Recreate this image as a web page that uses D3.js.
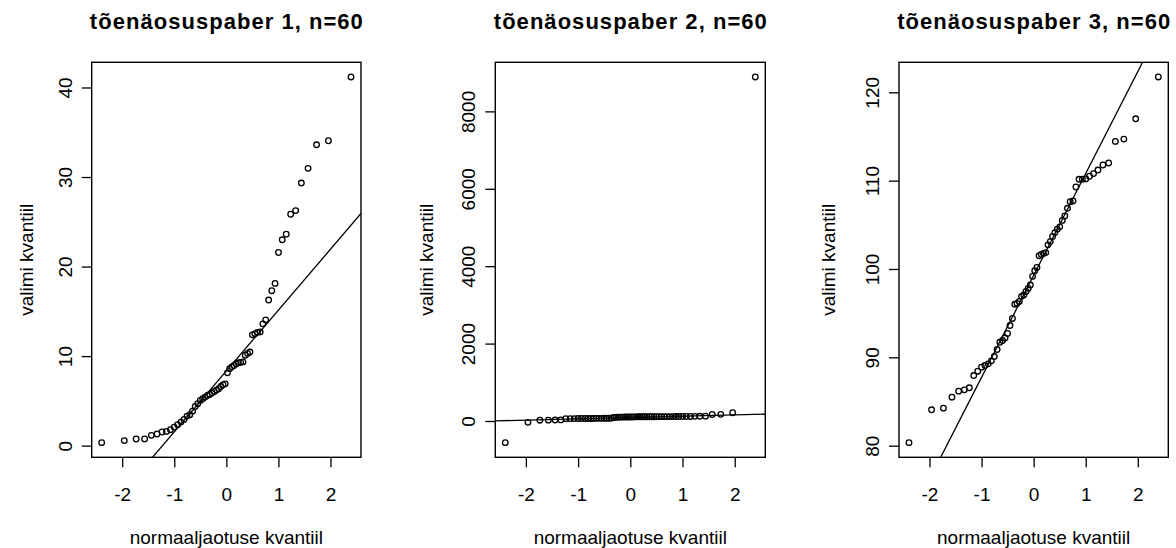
<!DOCTYPE html>
<html>
<head>
<meta charset="utf-8">
<script src="https://cdn.jsdelivr.net/npm/d3@7"></script>
<style>
  body { margin: 0; background: #fff; }
  text { font-family: "Liberation Sans", Arial, sans-serif; fill: #000; }
</style>
</head>
<body>
<div id="chart"></div>
<script>
// Panel titles and axis labels
const panelTitles = ["tõenäosuspaber 1, n=60", "tõenäosuspaber 2, n=60", "tõenäosuspaber 3, n=60"];
const xLabel = "normaaljaotuse kvantiil";
const yLabel = "valimi kvantiil";

// theoretical normal quantiles for n=60 (ppoints), shared by every panel
const normQuantiles = [
    -2.394, -1.960, -1.732, -1.569, -1.440, -1.331, -1.235, -1.150, -1.073, -1.001,
    -0.935, -0.872, -0.812, -0.755, -0.701, -0.649, -0.598, -0.549, -0.501, -0.454,
    -0.408, -0.363, -0.319, -0.275, -0.232, -0.189, -0.147, -0.105, -0.063, -0.021,
    0.021, 0.063, 0.105, 0.147, 0.189, 0.232, 0.275, 0.319, 0.363, 0.408,
    0.454, 0.501, 0.549, 0.598, 0.649, 0.701, 0.755, 0.812, 0.872, 0.935,
    1.001, 1.073, 1.150, 1.235, 1.331, 1.440, 1.569, 1.732, 1.960, 2.394
];

// sorted sample values
const sample1 = [
    0.33, 0.56, 0.74, 0.75, 1.15, 1.30, 1.52, 1.59, 1.78, 2.07,
    2.34, 2.63, 2.93, 3.30, 3.45, 3.85, 4.37, 4.68, 5.05, 5.24,
    5.42, 5.61, 5.72, 5.87, 6.05, 6.20, 6.35, 6.60, 6.80, 6.90,
    8.13, 8.60, 8.80, 8.95, 9.15, 9.25, 9.30, 9.35, 10.10, 10.30,
    10.45, 12.37, 12.50, 12.65, 12.70, 13.60, 14.04, 16.26, 17.30, 18.12,
    21.57, 22.99, 23.62, 25.84, 26.25, 29.33, 30.97, 33.60, 34.05, 41.18
];
const sample2 = [
    -560, -35, 20, 22, 25, 28, 60, 61, 62, 63,
    64, 65, 66, 66, 67, 68, 68, 69, 70, 71,
    72, 73, 90, 95, 98, 100, 101, 102, 103, 104,
    105, 106, 107, 108, 108, 109, 109, 110, 110, 110,
    111, 111, 112, 112, 113, 113, 114, 114, 115, 115,
    116, 117, 118, 120, 122, 125, 168, 172, 215, 8890
];
const sample3 = [
    80.34, 84.06, 84.25, 85.49, 86.17, 86.32, 86.55, 87.94, 88.43, 88.88,
    89.07, 89.26, 89.60, 90.09, 90.88, 91.70, 91.90, 92.19, 92.70, 93.60,
    94.40, 96.00, 96.10, 96.33, 96.90, 97.05, 97.46, 97.80, 98.18, 99.16,
    99.80, 100.17, 101.50, 101.65, 101.76, 101.85, 102.73, 103.10, 103.67, 104.12,
    104.50, 104.77, 105.50, 106.00, 106.87, 107.62, 107.70, 109.28, 110.15, 110.15,
    110.20, 110.50, 110.80, 111.20, 111.77, 112.00, 114.44, 114.70, 117.00, 121.74
];

// tick labels
const xTicks = [-2, -1, 0, 1, 2];
const yTicks1 = [0, 10, 20, 30, 40];
const yTicks2 = [0, 2000, 4000, 6000, 8000];
const yTicks3 = [80, 90, 100, 110, 120];

const chartConfig = {
    WIDTH: 1176,
    HEIGHT: 548,
    TOP: 62.3,
    BOTTOM: 457.3,
    TICK: 10,
    QUARTILE_Z: 0.6745, // qnorm(0.75)
    FONT: 19,
    TITLE_FONT: 22,
    TITLE_WIDTH: 273, // titles are drawn a bit spaced out
    TITLE_Y: 28.5,
    XLABEL_Y: 544,
    POINT_R: 2.8,
};

// plot box of each panel (left, right edge) and where its y title sits
const panels = [
    { left: 91.7, right: 361, yTitleX: 33, values: sample1, ticks: yTicks1 },
    { left: 495.3, right: 765.3, yTitleX: 433, values: sample2, ticks: yTicks2 },
    { left: 899, right: 1168.3, yTitleX: 835, values: sample3, ticks: yTicks3 },
];

const svg = d3.select('#chart')
    .append('svg')
    .attr('width', chartConfig.WIDTH)
    .attr('height', chartConfig.HEIGHT)
    .attr('viewBox', `0 0 ${chartConfig.WIDTH} ${chartConfig.HEIGHT}`);

// R style range: data extent padded by 4% on both sides
function padded(extent) {
    const d = (extent[1] - extent[0]) * 0.04;
    return [extent[0] - d, extent[1] + d];
}

// plain labels like R: "-2", "8000"
const plain = d => String(d);

panels.forEach((p, i) => {
    const g = svg.append('g');

    const x = d3.scaleLinear()
        .domain(padded(d3.extent(normQuantiles)))
        .range([p.left, p.right]);

    const y = d3.scaleLinear()
        .domain(padded(d3.extent(p.values)))
        .range([chartConfig.BOTTOM, chartConfig.TOP]);

    const clipId = `clip${i}`;
    g.append('clipPath').attr('id', clipId)
        .append('rect')
        .attr('x', p.left).attr('y', chartConfig.TOP)
        .attr('width', p.right - p.left)
        .attr('height', chartConfig.BOTTOM - chartConfig.TOP);

    // qqline through the quartiles
    const q1 = d3.quantile(p.values, 0.25);
    const q3 = d3.quantile(p.values, 0.75);
    const slope = (q3 - q1) / (2 * chartConfig.QUARTILE_Z);
    const intercept = (q1 + q3) / 2;
    const xd = x.domain();

    g.append('line')
        .attr('clip-path', `url(#${clipId})`)
        .attr('x1', x(xd[0])).attr('y1', y(intercept + slope * xd[0]))
        .attr('x2', x(xd[1])).attr('y2', y(intercept + slope * xd[1]))
        .attr('stroke', '#000')
        .attr('stroke-width', 1.3);

    // sample points
    g.selectAll('circle')
        .data(p.values)
        .join('circle')
        .attr('cx', (d, k) => x(normQuantiles[k]))
        .attr('cy', d => y(d))
        .attr('r', chartConfig.POINT_R)
        .attr('fill', 'none')
        .attr('stroke', '#000')
        .attr('stroke-width', 1.3);

    // frame
    g.append('rect')
        .attr('x', p.left).attr('y', chartConfig.TOP)
        .attr('width', p.right - p.left)
        .attr('height', chartConfig.BOTTOM - chartConfig.TOP)
        .attr('fill', 'none')
        .attr('stroke', '#000')
        .attr('stroke-width', 1.4);

    // x axis
    const xAxis = g.append('g')
        .attr('transform', `translate(0, ${chartConfig.BOTTOM})`)
        .call(d3.axisBottom(x).tickValues(xTicks).tickFormat(plain)
            .tickSize(chartConfig.TICK).tickSizeOuter(0).tickPadding(0));
    xAxis.select('.domain').remove();
    xAxis.selectAll('line').attr('stroke', '#000').attr('stroke-width', 1.3);
    xAxis.selectAll('text')
        .attr('y', 43.4).attr('dy', 0)
        .style('font-size', chartConfig.FONT + 'px')
        .style('font-family', '"Liberation Sans", Arial, sans-serif');

    // y axis, labels parallel to the axis
    const yAxis = g.append('g')
        .attr('transform', `translate(${p.left}, 0)`)
        .call(d3.axisLeft(y).tickValues(p.ticks).tickFormat(plain)
            .tickSize(chartConfig.TICK).tickSizeOuter(0));
    yAxis.select('.domain').remove();
    yAxis.selectAll('line').attr('stroke', '#000').attr('stroke-width', 1.3);
    yAxis.selectAll('text')
        .attr('x', 0).attr('y', -20).attr('dy', 0)
        .attr('text-anchor', 'middle')
        .attr('transform', 'rotate(-90)')
        .style('font-size', chartConfig.FONT + 'px')
        .style('font-family', '"Liberation Sans", Arial, sans-serif');

    const cx = (p.left + p.right) / 2;

    g.append('text')
        .attr('x', cx).attr('y', chartConfig.TITLE_Y)
        .attr('text-anchor', 'middle')
        .attr('textLength', chartConfig.TITLE_WIDTH)
        .attr('lengthAdjust', 'spacing')
        .style('font-size', chartConfig.TITLE_FONT + 'px')
        .style('font-weight', 'bold')
        .text(panelTitles[i]);

    g.append('text')
        .attr('x', cx).attr('y', chartConfig.XLABEL_Y)
        .attr('text-anchor', 'middle')
        .style('font-size', chartConfig.FONT + 'px')
        .text(xLabel);

    g.append('text')
        .attr('transform', `translate(${p.yTitleX}, ${(chartConfig.TOP + chartConfig.BOTTOM) / 2}) rotate(-90)`)
        .attr('text-anchor', 'middle')
        .style('font-size', chartConfig.FONT + 'px')
        .text(yLabel);
});
</script>
</body>
</html>
